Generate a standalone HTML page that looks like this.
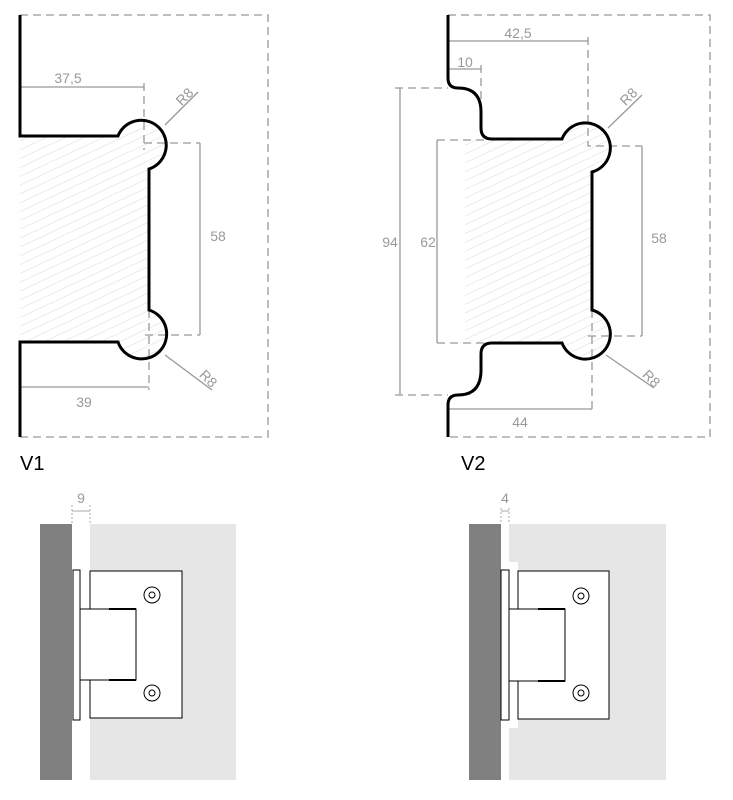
<!DOCTYPE html>
<html><head><style>html,body{margin:0;padding:0;background:#fff;}svg{display:block}</style></head>
<body>
<svg width="733" height="800" viewBox="0 0 733 800" xmlns="http://www.w3.org/2000/svg" font-family="Liberation Sans, sans-serif">
<defs>
<pattern id="h" width="8" height="8" patternUnits="userSpaceOnUse" patternTransform="rotate(-25)">
<line x1="0" y1="0" x2="8" y2="0" stroke="#d8d8d8" stroke-width="1"/>
</pattern>
</defs>
<!-- V1 -->
<path d="M20 136 H118 A25 25 0 1 1 149 169 V310 A25 25 0 1 1 118 342 H20 Z" fill="url(#h)"/>
<g fill="none" stroke="#999" stroke-width="1.3" stroke-dasharray="8,5">
<path d="M20 15 H268 V437 H20"/>
<path d="M144 83 V150"/>
<path d="M144 143 H200"/>
<path d="M145 335 H200"/>
<path d="M149 310 V390"/>
</g>
<g stroke="#999" stroke-width="1.3" fill="none">
<path d="M20 87 H144"/>
<path d="M200 143 V335"/>
<path d="M20 387 H149"/>
<path d="M165 125 L198 92"/>
<path d="M165 355 L212 390"/>
</g>
<path d="M20 15 V136 H118 A25 25 0 1 1 149 169 V310 A25 25 0 1 1 118 342 H20 V437" fill="none" stroke="#000" stroke-width="3"/>
<g fill="#999" font-size="14">
<text x="68" y="83" text-anchor="middle">37,5</text>
<text x="218" y="241" text-anchor="middle">58</text>
<text x="84" y="407" text-anchor="middle">39</text>
<text x="188" y="100" transform="rotate(-45 188 100)" text-anchor="middle">R8</text>
<text x="205" y="382" transform="rotate(45 205 382)" text-anchor="middle">R8</text>
</g>
<text x="20" y="470" font-size="20" fill="#000">V1</text>

<!-- V2 -->
<path d="M465 139 H562 A25 25 0 1 1 592 172 V310 A25 25 0 1 1 562 343 H465 Z" fill="url(#h)"/>
<g fill="none" stroke="#999" stroke-width="1.3" stroke-dasharray="8,5">
<path d="M448 15 H710 V437 H448"/>
<path d="M588 37 V146 H642"/>
<path d="M481 65 V100"/>
<path d="M395 88 H448"/>
<path d="M395 395 H448"/>
<path d="M437 140 H490"/>
<path d="M437 343 H490"/>
<path d="M588 336 H642"/>
<path d="M592 310 V412"/>
</g>
<g stroke="#999" stroke-width="1.3" fill="none">
<path d="M448 41 H588"/>
<path d="M448 69 H481"/>
<path d="M400 88 V395"/>
<path d="M437 140 V343"/>
<path d="M642 146 V336"/>
<path d="M448 409 H592"/>
<path d="M608 128 L642 95"/>
<path d="M606 355 L654 388"/>
</g>
<path d="M448 15 V78 Q448 88 458 88 Q481 88 481 112 V128 Q481 139 492 139 H562 A25 25 0 1 1 592 172 V310 A25 25 0 1 1 562 343 H492 Q481 343 481 354 V370 Q481 395 458 395 Q448 395 448 405 V437" fill="none" stroke="#000" stroke-width="3"/>
<g fill="#999" font-size="14">
<text x="518" y="38" text-anchor="middle">42,5</text>
<text x="465" y="67" text-anchor="middle">10</text>
<text x="390" y="247" text-anchor="middle">94</text>
<text x="428" y="247" text-anchor="middle">62</text>
<text x="659" y="243" text-anchor="middle">58</text>
<text x="520" y="427" text-anchor="middle">44</text>
<text x="632" y="100" transform="rotate(-45 632 100)" text-anchor="middle">R8</text>
<text x="648" y="382" transform="rotate(45 648 382)" text-anchor="middle">R8</text>
</g>
<text x="461" y="470" font-size="20" fill="#000">V2</text>

<!-- bottom left -->
<rect x="40" y="524" width="32" height="256" fill="#808080"/>
<rect x="90" y="524" width="146" height="256" fill="#e6e6e6"/>
<g stroke="#aaa" stroke-width="1" stroke-dasharray="2,2"><path d="M72 505 V524 M90 505 V524"/></g>
<path d="M72 511 H90" stroke="#aaa"/>
<text x="81" y="503" font-size="14" fill="#999" text-anchor="middle">9</text>
<rect x="73" y="570" width="7" height="150" fill="#fff" stroke="#000" stroke-width="1"/>
<rect x="90" y="571" width="92" height="147" fill="#fff" stroke="#000" stroke-width="1"/>
<rect x="80" y="609" width="56" height="71" fill="#fff" stroke="#000" stroke-width="1"/>
<path d="M109 609 H136 M109 680 H136" stroke="#000" stroke-width="2"/>
<g fill="none" stroke="#000"><circle cx="152" cy="595" r="8"/><circle cx="152" cy="595" r="3"/><circle cx="152" cy="693" r="8"/><circle cx="152" cy="693" r="3"/></g>

<!-- bottom right -->
<rect x="469" y="524" width="32" height="256" fill="#808080"/>
<rect x="509" y="524" width="157" height="256" fill="#e6e6e6"/>
<rect x="509" y="562" width="9" height="166" fill="#fff"/>
<g stroke="#aaa" stroke-width="1" stroke-dasharray="2,2"><path d="M501 508 V524 M509 508 V524"/></g>
<path d="M501 511 H509" stroke="#aaa"/>
<text x="505" y="503" font-size="14" fill="#999" text-anchor="middle">4</text>
<rect x="501" y="570" width="8" height="150" fill="#fff" stroke="#000" stroke-width="1"/>
<rect x="518" y="571" width="91" height="148" fill="#fff" stroke="#000" stroke-width="1"/>
<rect x="509" y="609" width="56" height="72" fill="#fff" stroke="#000" stroke-width="1"/>
<path d="M538 609 H565 M538 681 H565" stroke="#000" stroke-width="2"/>
<g fill="none" stroke="#000"><circle cx="581" cy="596" r="8"/><circle cx="581" cy="596" r="3"/><circle cx="581" cy="693" r="8"/><circle cx="581" cy="693" r="3"/></g>
</svg>
</body></html>
